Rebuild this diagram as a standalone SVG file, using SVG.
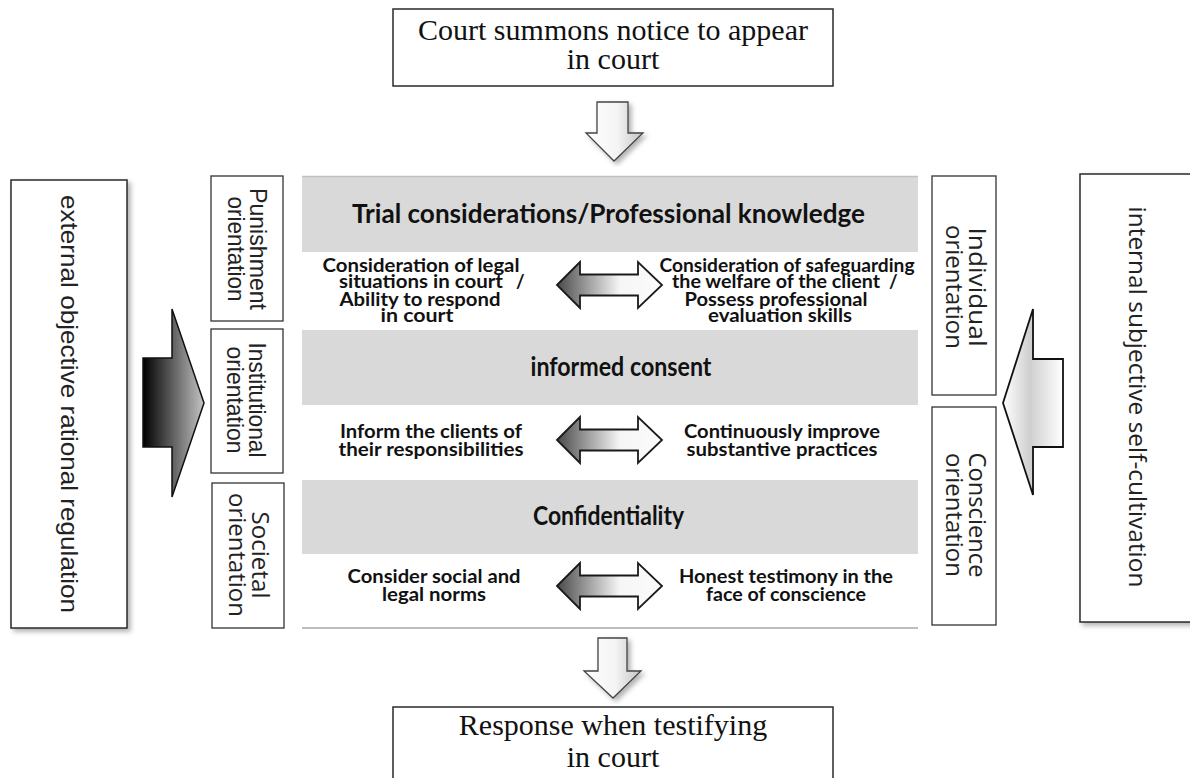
<svg xmlns="http://www.w3.org/2000/svg" width="1190" height="778" viewBox="0 0 1190 778">
<style>
.box{fill:#fff;stroke:#2a2a2a;stroke-width:1.5}
.sbox{fill:#fff;stroke:#333;stroke-width:1.3}
.band{fill:#d9d9d9}
.serif{font-family:"Liberation Serif","Times New Roman",serif;font-size:30px;fill:#111;text-anchor:middle}
.bandt{font-family:Lato,"Liberation Sans",sans-serif;font-weight:bold;font-size:26px;fill:#111;text-anchor:middle}
.row{font-family:Lato,"Liberation Sans",sans-serif;font-weight:bold;font-size:18.5px;fill:#111;text-anchor:middle}
.ar{font-family:"Liberation Sans",Arial,sans-serif;font-size:24px;fill:#222;text-anchor:middle}
.os{font-family:"Open Sans","Liberation Sans",sans-serif;font-size:24px;fill:#222;text-anchor:middle}
.dbl{fill:url(#gDbl);stroke:#1a1a1a;stroke-width:1.8;stroke-linejoin:miter}
.down{fill:url(#gDown);stroke:#444;stroke-width:1.3}
</style>
<defs>
<linearGradient id="gDbl" x1="0" y1="0" x2="1" y2="0">
<stop offset="0" stop-color="#4a4a4a"/>
<stop offset="0.6" stop-color="#f6f6f6"/>
<stop offset="1" stop-color="#fbfbfb"/>
</linearGradient>
<linearGradient id="gDown" x1="0" y1="0" x2="1" y2="0">
<stop offset="0" stop-color="#ffffff"/>
<stop offset="0.55" stop-color="#f4f4f4"/>
<stop offset="1" stop-color="#c4c4c4"/>
</linearGradient>
<linearGradient id="gLeft" x1="0" y1="0" x2="1" y2="0">
<stop offset="0" stop-color="#000"/>
<stop offset="1" stop-color="#c4c4c4"/>
</linearGradient>
<linearGradient id="gRight" x1="0" y1="0" x2="1" y2="0">
<stop offset="0" stop-color="#ffffff"/>
<stop offset="0.45" stop-color="#cfcfcf"/>
<stop offset="1" stop-color="#ffffff"/>
</linearGradient>
<filter id="sh" x="-20%" y="-10%" width="140%" height="120%">
<feDropShadow dx="3" dy="3" stdDeviation="2.5" flood-color="#000" flood-opacity="0.3"/>
</filter>
<path id="dbl" d="M557,0 L580,-23 L580,-10.5 L638,-10.5 L638,-23 L662,0 L638,23 L638,10.5 L580,10.5 L580,23 Z"/>
</defs>

<rect width="1190" height="778" fill="#fff"/>

<g id="bands">
<rect class="band" x="302" y="176" width="616" height="76"/>
<line x1="302" y1="176.5" x2="918" y2="176.5" stroke="#c2c2c2" stroke-width="1.5"/>
<rect class="band" x="302" y="330" width="616" height="75"/>
<rect class="band" x="302" y="480" width="616" height="74"/>
<line x1="302" y1="628" x2="918" y2="628" stroke="#bdbdbd" stroke-width="2"/>
</g>

<g id="top-box">
<rect class="box" x="393" y="9" width="440" height="77"/>
<text class="serif" x="613" y="40" font-size="30.5">Court summons notice to appear</text>
<text class="serif" x="613" y="69">in court</text>
</g>

<g id="bottom-box">
<rect class="box" x="393" y="707" width="440" height="90"/>
<text class="serif" x="613" y="735">Response when testifying</text>
<text class="serif" x="613" y="767">in court</text>
</g>

<g id="band-trial">
<text class="bandt" x="608.5" y="223" textLength="513" lengthAdjust="spacingAndGlyphs">Trial considerations/Professional knowledge</text>
</g>
<g id="band-consent">
<text class="bandt" x="621" y="376" textLength="181" lengthAdjust="spacingAndGlyphs">informed consent</text>
</g>
<g id="band-conf">
<text class="bandt" x="608.5" y="525" textLength="151" lengthAdjust="spacingAndGlyphs">Confidentiality</text>
</g>

<g id="row1-left">
<text class="row" x="421" y="272" textLength="197" lengthAdjust="spacingAndGlyphs">Consideration of legal</text>
<text class="row" y="288"><tspan x="421" textLength="164" lengthAdjust="spacingAndGlyphs">situations in court</tspan><tspan x="518"> /</tspan></text>
<text class="row" x="420" y="306" textLength="161" lengthAdjust="spacingAndGlyphs">Ability to respond</text>
<text class="row" x="417" y="322" textLength="73" lengthAdjust="spacingAndGlyphs">in court</text>
</g>
<g id="row1-right">
<text class="row" x="787" y="272" textLength="255" lengthAdjust="spacingAndGlyphs">Consideration of safeguarding</text>
<text class="row" y="288"><tspan x="776" textLength="208" lengthAdjust="spacingAndGlyphs">the welfare of the client</tspan><tspan x="891"> /</tspan></text>
<text class="row" x="776" y="306" textLength="183" lengthAdjust="spacingAndGlyphs">Possess professional</text>
<text class="row" x="780" y="322" textLength="144" lengthAdjust="spacingAndGlyphs">evaluation skills</text>
</g>
<g id="row2-left">
<text class="row" x="431" y="438" textLength="182" lengthAdjust="spacingAndGlyphs">Inform the clients of</text>
<text class="row" x="431" y="456" textLength="185" lengthAdjust="spacingAndGlyphs">their responsibilities</text>
</g>
<g id="row2-right">
<text class="row" x="782" y="438" textLength="196" lengthAdjust="spacingAndGlyphs">Continuously improve</text>
<text class="row" x="782" y="456" textLength="191" lengthAdjust="spacingAndGlyphs">substantive practices</text>
</g>
<g id="row3-left">
<text class="row" x="434" y="583" textLength="173" lengthAdjust="spacingAndGlyphs">Consider social and</text>
<text class="row" x="434" y="601" textLength="104" lengthAdjust="spacingAndGlyphs">legal norms</text>
</g>
<g id="row3-right">
<text class="row" x="786" y="583" textLength="214" lengthAdjust="spacingAndGlyphs">Honest testimony in the</text>
<text class="row" x="786" y="601" textLength="160" lengthAdjust="spacingAndGlyphs">face of conscience</text>
</g>

<g id="left-big" filter="url(#sh)">
<rect class="box" x="11" y="180" width="116" height="448"/>
</g>
<g id="left-big-text">
<text class="ar" font-size="25" transform="translate(61,404) rotate(90)" x="0" y="0" textLength="418" lengthAdjust="spacingAndGlyphs">external objective rational regulation</text>
</g>

<g id="right-big" filter="url(#sh)">
<rect class="box" x="1080" y="174" width="130" height="448"/>
</g>
<g id="right-big-text">
<text class="os" font-size="25" transform="translate(1129,397) rotate(90)" x="0" y="0" textLength="381" lengthAdjust="spacingAndGlyphs">internal subjective self-cultivation</text>
</g>

<g id="punishment">
<rect class="sbox" x="211" y="176" width="72" height="145"/>
<g transform="translate(247,249) rotate(90)">
<text class="ar" x="0" y="-3" textLength="122" lengthAdjust="spacingAndGlyphs">Punishment</text>
<text class="ar" x="0" y="19.5" textLength="105" lengthAdjust="spacingAndGlyphs">orientation</text>
</g>
</g>
<g id="institutional">
<rect class="sbox" x="211" y="329" width="72" height="144"/>
<g transform="translate(247,400) rotate(90)">
<text class="ar" x="0" y="-2" textLength="115" lengthAdjust="spacingAndGlyphs">Institutional</text>
<text class="ar" x="0" y="20" textLength="107" lengthAdjust="spacingAndGlyphs">orientation</text>
</g>
</g>
<g id="societal">
<rect class="sbox" x="212" y="483" width="72" height="145"/>
<g transform="translate(248,555) rotate(90)">
<text class="os" x="0" y="-4" textLength="87" lengthAdjust="spacingAndGlyphs">Societal</text>
<text class="os" x="0" y="19" textLength="124" lengthAdjust="spacingAndGlyphs">orientation</text>
</g>
</g>
<g id="individual">
<rect class="sbox" x="932" y="176" width="64" height="219"/>
<g transform="translate(964,287) rotate(90)">
<text class="os" x="0" y="-5" textLength="119" lengthAdjust="spacingAndGlyphs">Individual</text>
<text class="os" x="0" y="18" textLength="124" lengthAdjust="spacingAndGlyphs">orientation</text>
</g>
</g>
<g id="conscience">
<rect class="sbox" x="932" y="407" width="64" height="218"/>
<g transform="translate(964,515) rotate(90)">
<text class="os" x="0" y="-5" textLength="125" lengthAdjust="spacingAndGlyphs">Conscience</text>
<text class="os" x="0" y="18" textLength="124" lengthAdjust="spacingAndGlyphs">orientation</text>
</g>
</g>

<g id="connectors">
<path class="down" filter="url(#sh)" d="M597,102 H628 V133 H643 L614,161 L586,133 H597 Z"/>
<path class="down" filter="url(#sh)" d="M598,638 H627 V671 H641 L613,698 L584,671 H598 Z"/>
<path d="M143,358 H172 V309 L204,403 L172,497 V447 H143 Z" fill="url(#gLeft)" stroke="#111" stroke-width="1.5"/>
<path d="M1063,359 H1033 V309 L1003,403 L1033,495 V447 H1063 Z" fill="url(#gRight)" stroke="#111" stroke-width="1.8"/>
<use href="#dbl" class="dbl" transform="translate(0,285)"/>
<use href="#dbl" class="dbl" transform="translate(0,440)"/>
<use href="#dbl" class="dbl" transform="translate(0,586)"/>
</g>
</svg>
